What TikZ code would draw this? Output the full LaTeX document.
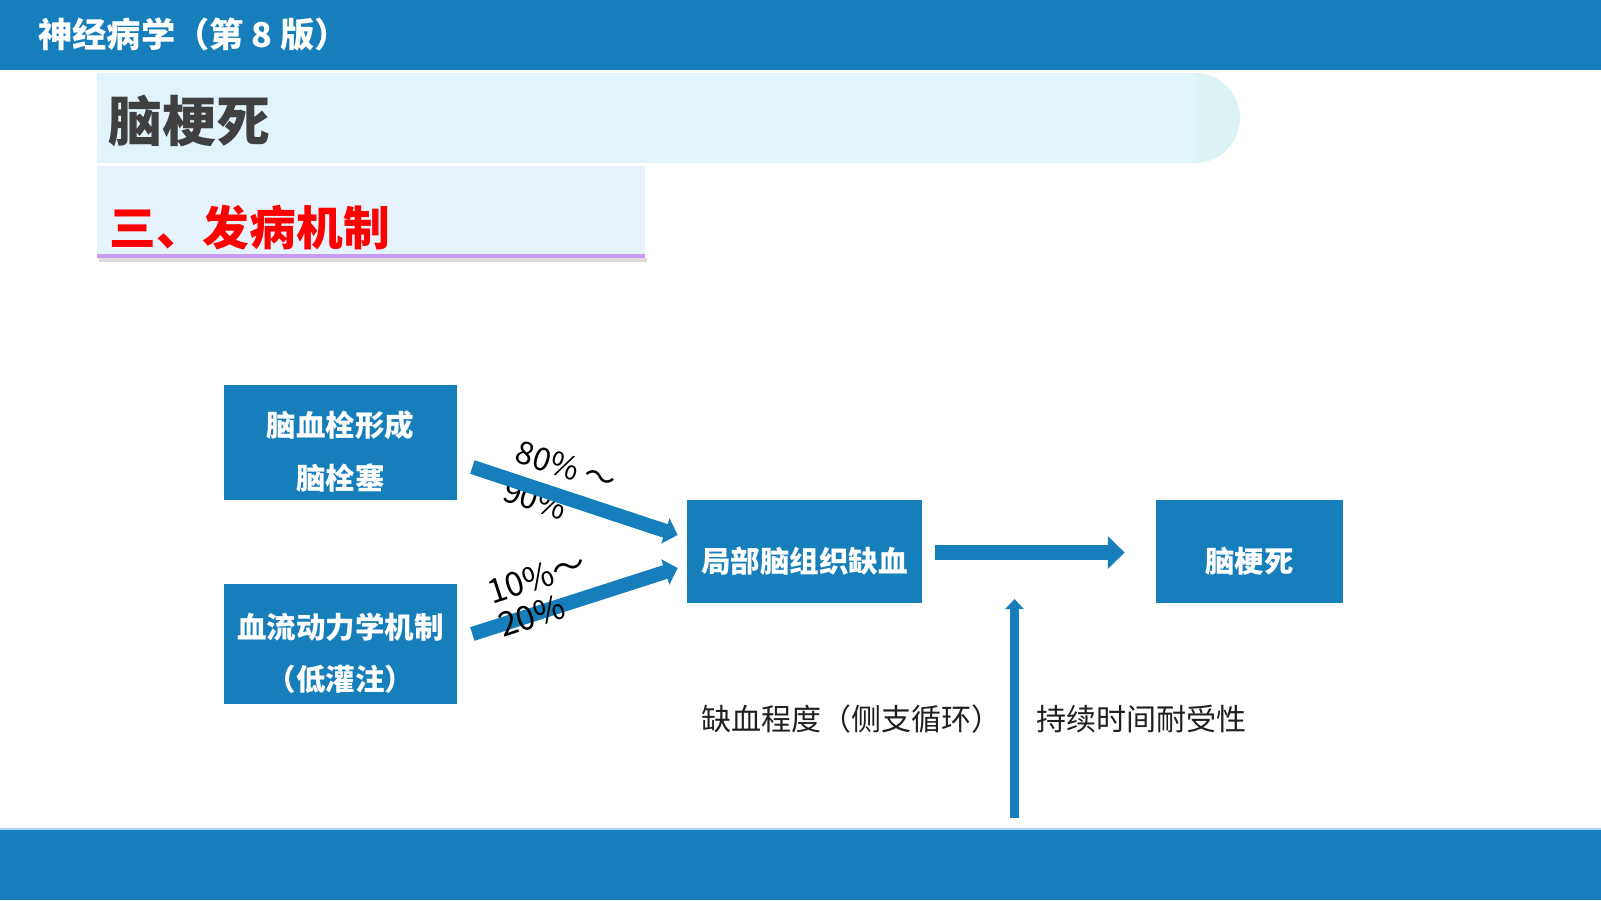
\documentclass[tikz,border=0pt]{standalone}
\usepackage{fontspec}
\setmainfont{Noto Sans CJK SC}
\usepackage{xcolor}
\usetikzlibrary{arrows.meta,calc}
\definecolor{bar}{HTML}{167EBA}
\definecolor{bandA}{HTML}{E2F3FC}
\definecolor{bandcap}{HTML}{DDF2F5}
\definecolor{bandB}{HTML}{E6F2FC}
\definecolor{lav}{HTML}{C99CF0}
\definecolor{ttl}{HTML}{404040}
\tikzset{
  box/.style={fill=bar,text=white,align=center,inner sep=0pt,
              font=\fontsize{16.8}{30}\selectfont\bfseries,
              execute at begin node={\rule{0pt}{#1}}},      % 文字略偏下
  box/.default=25pt,
  pct/.style={align=left,inner sep=0pt,text=black},
  blk/.style={draw=bar,line width=8.1pt,-{Triangle[length=7.4pt,width=14.8pt]}},
  fat/.style={draw=bar,line width=8.9pt,-{Triangle[length=9.6pt,width=18.1pt]}},
  upar/.style={draw=bar,line width=5.4pt,-{Triangle[length=5.7pt,width=10.2pt]}},
  lbl/.style={inner sep=0pt,anchor=west,text=black!88,font=\fontsize{17.1}{20}\selectfont}
}

\begin{document}
\begin{tikzpicture}[x=0.02cm,y=-0.02cm]
  \useasboundingbox (0,0) rectangle (1601,900);
  % 页眉、页脚
  \fill[bar] (0,0) rectangle (1601,70);
  \fill[bar] (0,829) rectangle (1601,900);
  \draw[bar!35,line width=0.6pt] (0,829) -- (1601,829);
  \node[anchor=west,inner sep=0pt,text=white,font=\fontsize{19.5}{20}\selectfont\bfseries] (book) at (38,35) {神经病学（第 8 版）};

  % 标题条
  \fill[bandA] (97,73) rectangle (1195,163);
  \fill[bandcap] (1195,73) arc[start angle=-90,end angle=90,radius=45] -- cycle;
  \node[anchor=west,inner sep=0pt,text=ttl,font=\fontsize{30.8}{32}\selectfont\bfseries] (topic) at (108,121) {脑梗死};
  \fill[black!14] (99,258) rectangle (647,262);
  \fill[bandB] (97,166) rectangle (645,255);
  \fill[lav] (97,254) rectangle (645,258);
  \node[anchor=west,inner sep=0pt,text=red,font=\fontsize{26.6}{28}\selectfont\bfseries] (part) at (109,228) {三、发病机制};

  % 流程
  \node[box=55pt,minimum width=4.66cm,minimum height=2.3cm] (thromb) at (340.5,442.5) {脑血栓形成\\脑栓塞};
  \node[box=55pt,minimum width=4.66cm,minimum height=2.4cm] (hemo) at (340.5,644) {血流动力学机制\\（低灌注）};
  \node[box,minimum width=4.7cm,minimum height=2.06cm] (isch) at (804.5,551.5) {局部脑组织缺血};
  \node[box,minimum width=3.74cm,minimum height=2.06cm] (infarct) at (1249.5,551.5) {脑梗死};

  \node[pct,rotate=-18,font=\fontsize{18}{23}\selectfont] (pcthigh) at (560,486) {80\% ～\\90\%};
  \draw[blk] ($(thromb.east)+(15,24.5)$) -- ($(isch.west)+(-9,-16.5)$);
  \draw[blk] ($(hemo.east)+(15,-10)$) -- ($(isch.west)+(-9,16.5)$);
  \node[pct,rotate=18,font=\fontsize{19}{20}\selectfont] (pctlow) at (542,594) {10\%～\\20\%};
  \draw[fat] ($(isch.east)+(13,1)$) -- ($(infarct.west)+(-31,1)$);

  \coordinate (tolbase) at (1014.5,818);
  \coordinate (toltip) at (1014.5,599);
  \draw[upar] (tolbase) -- (toltip);
  \node[lbl] (degree) at (701,719) {缺血程度（侧支循环）};
  \node[lbl] (tolerance) at (1036,719) {持续时间耐受性};
\end{tikzpicture}
\end{document}
